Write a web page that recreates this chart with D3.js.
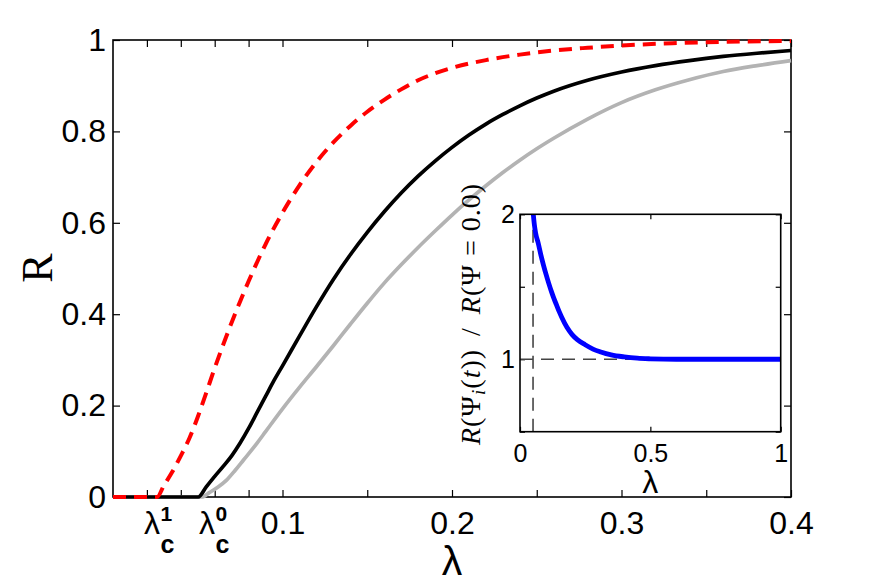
<!DOCTYPE html>
<html>
<head>
<meta charset="utf-8">
<script src="https://cdn.jsdelivr.net/npm/d3@7"></script>
<style>
  html, body { margin: 0; padding: 0; background: #fff; }
  svg { display: block; }
</style>
</head>
<body>
<svg id="chart" width="873" height="584"></svg>
<script>
// ---------------- DATA ----------------
// Main panel: order parameter R versus coupling lambda
const redLambda   = [0, 0.026, 0.03, 0.035, 0.04, 0.045, 0.05, 0.055, 0.06, 0.065, 0.07, 0.075, 0.08, 0.09, 0.1, 0.11, 0.12, 0.13, 0.14, 0.15, 0.16, 0.17, 0.18, 0.19, 0.2, 0.22, 0.24, 0.26, 0.28, 0.3, 0.33, 0.36, 0.4];
const redR        = [0, 0,     0.025, 0.055, 0.09, 0.128, 0.175, 0.228, 0.282, 0.333, 0.382, 0.428, 0.472, 0.553, 0.622, 0.682, 0.733, 0.776, 0.812, 0.843, 0.869, 0.892, 0.912, 0.927, 0.939, 0.956, 0.968, 0.977, 0.983, 0.988, 0.993, 0.996, 0.998];

const blackLambda = [0, 0.0503, 0.055, 0.06, 0.065, 0.07, 0.075, 0.08, 0.085, 0.09, 0.095, 0.1, 0.11, 0.12, 0.13, 0.14, 0.15, 0.16, 0.17, 0.18, 0.19, 0.2, 0.21, 0.22, 0.23, 0.24, 0.25, 0.26, 0.28, 0.3, 0.32, 0.34, 0.36, 0.38, 0.4];
const blackR      = [0, 0,      0.022, 0.045, 0.067, 0.09, 0.118, 0.15, 0.185, 0.22, 0.255, 0.287, 0.352, 0.416, 0.476, 0.530, 0.579, 0.624, 0.665, 0.702, 0.735, 0.765, 0.792, 0.816, 0.837, 0.856, 0.873, 0.888, 0.912, 0.930, 0.944, 0.955, 0.964, 0.971, 0.977];

const grayLambda  = [0, 0.0523, 0.057, 0.062, 0.067, 0.072, 0.077, 0.085, 0.09, 0.1, 0.11, 0.12, 0.13, 0.14, 0.15, 0.16, 0.17, 0.18, 0.19, 0.2, 0.21, 0.22, 0.23, 0.24, 0.25, 0.26, 0.28, 0.3, 0.32, 0.34, 0.36, 0.38, 0.4];
const grayR       = [0, 0,      0.01,  0.022, 0.037, 0.058, 0.081, 0.118, 0.143, 0.193, 0.24, 0.285, 0.331, 0.378, 0.424, 0.468, 0.508, 0.546, 0.582, 0.617, 0.650, 0.681, 0.710, 0.737, 0.762, 0.785, 0.827, 0.863, 0.891, 0.913, 0.931, 0.944, 0.955];

const xTicks      = [0.02, 0.04, 0.06, 0.08, 0.1, 0.15, 0.2, 0.25, 0.3, 0.35, 0.4];
const xTickLabels = { 0.1: "0.1", 0.2: "0.2", 0.3: "0.3", 0.4: "0.4" };
const yTicks      = [0, 0.2, 0.4, 0.6, 0.8, 1];
const yTickLabels = ["0", "0.2", "0.4", "0.6", "0.8", "1"];
// critical-coupling labels (position of the join between lambda and its indices)
const critLabelAt  = [0.0277, 0.0602];
const critLabelSup = ["1", "0"];

// Inset: ratio R(Psi_i(t)) / R(Psi = 0.0) versus lambda
const insetLambda = [0.05, 0.055, 0.06, 0.07, 0.08, 0.09, 0.1, 0.11, 0.12, 0.13, 0.14, 0.15, 0.16, 0.18, 0.2, 0.22, 0.25, 0.28, 0.31, 0.35, 0.4, 0.45, 0.5, 0.6, 1.0];
const insetRatio  = [2.02, 1.93, 1.87, 1.80, 1.72, 1.65, 1.585, 1.525, 1.47, 1.42, 1.375, 1.33, 1.29, 1.22, 1.17, 1.135, 1.10, 1.07, 1.05, 1.03, 1.016, 1.007, 1.003, 1.0, 1.0];
const insetXTicks = [0, 0.5, 1];
const insetXTickLabels = ["0", "0.5", "1"];
const insetYTicks = [0.5, 1, 1.5, 2];
const insetYTickLabels = { 1: "1", 2: "2" };
const insetRefLambda = 0.05;   // vertical dashed reference
const insetRefRatio  = 1;      // horizontal dashed reference

// ---------------- DRAWING ----------------
const svg = d3.select("#chart");
const sans = "'Liberation Sans', Arial, Helvetica, sans-serif";
const serif = "'Liberation Serif', 'Times New Roman', serif";

const x = d3.scaleLinear().domain([0, 0.4]).range([113, 791]);
const y = d3.scaleLinear().domain([0, 1]).range([497, 40]);

function styleAxis(g, fontSize) {
  g.select(".domain").remove();
  g.selectAll(".tick line").attr("stroke", "#000").attr("stroke-width", 1.2);
  g.selectAll(".tick text").attr("fill", "#000").style("font-family", sans).style("font-size", fontSize + "px");
}

// main axes ticks
svg.append("g").attr("transform", `translate(0,${y(0)})`)
  .call(d3.axisBottom(x).tickValues(xTicks).tickSize(-7).tickPadding(14)
    .tickFormat(d => xTickLabels[d] || ""))
  .call(g => styleAxis(g, 32));
svg.append("g").attr("transform", `translate(0,${y(1)})`)
  .call(d3.axisTop(x).tickValues(xTicks).tickSize(-7).tickFormat(""))
  .call(g => styleAxis(g, 32));
svg.append("g").attr("transform", `translate(${x(0)},0)`)
  .call(d3.axisLeft(y).tickValues(yTicks).tickSize(-7).tickPadding(7)
    .tickFormat((d, i) => yTickLabels[i]))
  .call(g => styleAxis(g, 32));
svg.append("g").attr("transform", `translate(${x(0.4)},0)`)
  .call(d3.axisRight(y).tickValues(yTicks).tickSize(-7).tickFormat(""))
  .call(g => styleAxis(g, 32));

svg.append("rect")
  .attr("x", x(0)).attr("y", y(1))
  .attr("width", x(0.4) - x(0)).attr("height", y(0) - y(1))
  .attr("fill", "none").attr("stroke", "#000").attr("stroke-width", 1.6);

// critical labels lambda_c^1, lambda_c^0
critLabelAt.forEach((v, i) => {
  const px = x(v);
  svg.append("text").attr("x", px).attr("y", 534).attr("text-anchor", "end")
    .style("font-family", sans).style("font-size", "32px").text("λ");
  svg.append("text").attr("x", px + 0.5).attr("y", 521)
    .style("font-family", sans).style("font-size", "21px").style("font-weight", "bold")
    .text(critLabelSup[i]);
  svg.append("text").attr("x", px + 0.5).attr("y", 553)
    .style("font-family", sans).style("font-size", "25px").style("font-weight", "bold")
    .text("c");
});

// axis labels
svg.append("text").attr("x", x(0.2)).attr("y", 575).attr("text-anchor", "middle")
  .style("font-family", sans).style("font-size", "41px").text("λ");
svg.append("text").attr("transform", `translate(52,268) rotate(-90)`).attr("text-anchor", "middle")
  .style("font-family", serif).style("font-size", "44px").text("R");

// curves
const mkLine = (xs, ys, sx, sy) => d3.line().x((d, i) => sx(xs[i])).y((d, i) => sy(ys[i])).curve(d3.curveMonotoneX)(xs);

svg.append("path").attr("d", mkLine(grayLambda, grayR, x, y))
  .attr("fill", "none").attr("stroke", "#b3b3b3").attr("stroke-width", 3.7);
svg.append("path").attr("d", mkLine(blackLambda, blackR, x, y))
  .attr("fill", "none").attr("stroke", "#000").attr("stroke-width", 3.7);
svg.append("path").attr("d", mkLine(redLambda, redR, x, y))
  .attr("fill", "none").attr("stroke", "#ff0000").attr("stroke-width", 4)
  .attr("stroke-dasharray", "13,8");

// ---------------- INSET ----------------
const ix = d3.scaleLinear().domain([0, 1]).range([520, 780.7]);
const iy = d3.scaleLinear().domain([0.5, 2]).range([431.7, 214.3]);

svg.append("rect")
  .attr("x", ix(0)).attr("y", iy(2)).attr("width", ix(1) - ix(0)).attr("height", iy(0.5) - iy(2))
  .attr("fill", "#fff");

svg.append("defs").append("clipPath").attr("id", "insetClip")
  .append("rect").attr("x", ix(0)).attr("y", iy(2)).attr("width", ix(1) - ix(0)).attr("height", iy(0.5) - iy(2));

svg.append("g").attr("transform", `translate(0,${iy(0.5)})`)
  .call(d3.axisBottom(ix).tickValues(insetXTicks).tickSize(-5).tickPadding(13)
    .tickFormat((d, i) => insetXTickLabels[i]))
  .call(g => styleAxis(g, 25));
svg.append("g").attr("transform", `translate(0,${iy(2)})`)
  .call(d3.axisTop(ix).tickValues(insetXTicks).tickSize(-5).tickFormat(""))
  .call(g => styleAxis(g, 25));
svg.append("g").attr("transform", `translate(${ix(0)},0)`)
  .call(d3.axisLeft(iy).tickValues(insetYTicks).tickSize(-5).tickPadding(5)
    .tickFormat(d => insetYTickLabels[d] || ""))
  .call(g => styleAxis(g, 25));
svg.append("g").attr("transform", `translate(${ix(1)},0)`)
  .call(d3.axisRight(iy).tickValues(insetYTicks).tickSize(-5).tickFormat(""))
  .call(g => styleAxis(g, 25));

const ig = svg.append("g").attr("clip-path", "url(#insetClip)");
ig.append("line")
  .attr("x1", ix(0)).attr("x2", ix(1)).attr("y1", iy(insetRefRatio)).attr("y2", iy(insetRefRatio))
  .attr("stroke", "#444").attr("stroke-width", 1.6).attr("stroke-dasharray", "13,8");
ig.append("line")
  .attr("x1", ix(insetRefLambda)).attr("x2", ix(insetRefLambda)).attr("y1", iy(0.5)).attr("y2", iy(2))
  .attr("stroke", "#444").attr("stroke-width", 1.6).attr("stroke-dasharray", "13,8");
ig.append("path").attr("d", mkLine(insetLambda, insetRatio, ix, iy))
  .attr("fill", "none").attr("stroke", "#0000ff").attr("stroke-width", 4.8);

svg.append("rect")
  .attr("x", ix(0)).attr("y", iy(2)).attr("width", ix(1) - ix(0)).attr("height", iy(0.5) - iy(2))
  .attr("fill", "none").attr("stroke", "#000").attr("stroke-width", 1.6);

// inset labels
svg.append("text").attr("x", ix(0.5)).attr("y", 493).attr("text-anchor", "middle")
  .style("font-family", sans).style("font-size", "32px").text("λ");

const yl = svg.append("text").attr("transform", `translate(480,314) rotate(-90)`)
  .attr("text-anchor", "middle")
  .style("font-family", serif).style("font-size", "28px").style("letter-spacing", "1px");
yl.append("tspan").style("font-style", "italic").text("R");
yl.append("tspan").text("(Ψ");
yl.append("tspan").style("font-style", "italic").style("font-size", "19px").attr("dy", 5).text("i");
yl.append("tspan").attr("dy", -5).text("(");
yl.append("tspan").style("font-style", "italic").text("t");
yl.append("tspan").text("))");
yl.append("tspan").attr("dx", 13).text("/");
yl.append("tspan").attr("dx", 13).style("font-style", "italic").text("R");
yl.append("tspan").text("(Ψ");
yl.append("tspan").attr("dx", 8).text("=");
yl.append("tspan").attr("dx", 8).text("0.0)");
</script>
</body>
</html>
